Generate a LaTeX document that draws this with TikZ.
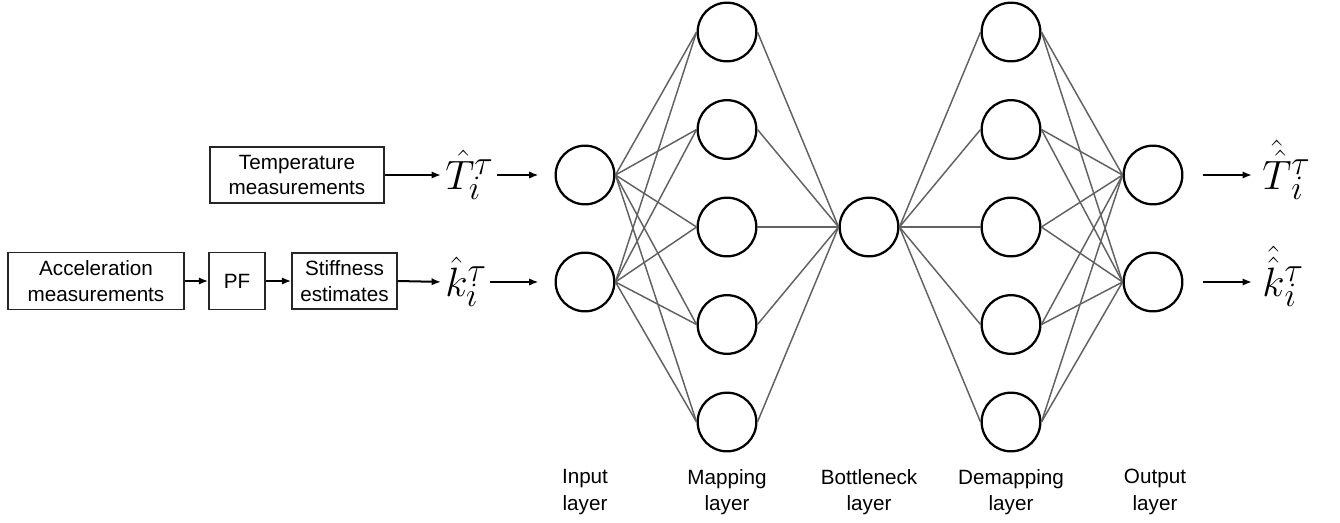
\documentclass[tikz,border=0pt]{standalone}
\usepackage{fontspec}
\newfontfamily\sansfont{Liberation Sans}
\usetikzlibrary{arrows.meta}

\begin{document}
\begin{tikzpicture}[x=0.75pt,y=-0.75pt,
  neuron/.style={circle,draw=black,line width=1.7pt,fill=white,minimum size=44pt,inner sep=0pt},
  blockbox/.style={draw=black!85,line width=1.1pt,inner sep=0pt,align=center,
    font=\sansfont\fontsize{15.5}{19}\selectfont},
  mathlbl/.style={inner sep=0pt,anchor=west,scale=1.236,transform shape,
    font=\fontsize{24.88}{30}\selectfont},
  layerlbl/.style={align=center,inner sep=0pt,font=\sansfont\fontsize{15.5}{20}\selectfont},
  link/.style={draw=black!62,line width=1.1pt},
  flow/.style={draw=black,line width=1.5pt,-{Latex[length=7pt,width=5.5pt]}}]

\useasboundingbox (0,0) rectangle (1340,522);

% signal-processing blocks
\node[blockbox,minimum width=130.5pt,minimum height=42pt] (tbox) at (297,175) {Temperature\\measurements};
\node[blockbox,minimum width=132pt,minimum height=42.75pt] (abox) at (96,281) {Acceleration\\measurements};
\node[blockbox,minimum width=42pt,minimum height=42.75pt] (pf) at (237,281) {PF};
\node[blockbox,minimum width=78.75pt,minimum height=42pt] (sbox) at (344.5,281) {Stiffness\\estimates};

% network inputs and outputs
\node[mathlbl] (tin) at (445,175) {$\hat{T}_i^{\tau}$};
\node[mathlbl] (kin) at (445,282) {$\hat{k}_i^{\tau}$};
\node[mathlbl] (tout) at (1262,175) {$\smash{\hat{\hat{T}}}\vphantom{\hat{T}}_i^{\tau}$};
\node[mathlbl] (kout) at (1262,282) {$\smash{\hat{\hat{k}}}\vphantom{\hat{k}}_i^{\tau}$};

% neurons
\node[neuron] (in1) at (585,175) {};
\node[neuron] (in2) at (585,282) {};
\foreach \j/\yy in {1/32,2/129.5,3/227,4/324.5,5/422}{
  \node[neuron] (m\j) at (727,\yy) {};
  \node[neuron] (d\j) at (1011,\yy) {};
}
\node[neuron] (bn) at (869,227) {};
\node[neuron] (out1) at (1153,175) {};
\node[neuron] (out2) at (1153,282) {};

% weighted connections
\foreach \i in {1,2}{
  \foreach \j in {1,...,5}{
    \draw[link] (in\i.east) -- (m\j.west);
    \draw[link] (d\j.east) -- (out\i.west);
  }
}
\foreach \j in {1,...,5}{
  \draw[link] (m\j.east) -- (bn.west);
  \draw[link] (bn.east) -- (d\j.west);
}

% signal flow arrows
\draw[flow] (abox.east) -- (pf.west);
\draw[flow] (pf.east) -- (sbox.west);
\draw[flow,shorten >=3pt] (tbox.east) -- (tin.west);
\draw[flow,shorten >=3pt] (sbox.east) -- (kin.west);
\draw[flow,shorten <=2pt,shorten >=12pt] (tin.east) -- (in1.west);
\draw[flow,shorten <=2pt,shorten >=12pt] (kin.east) -- (in2.west);
\draw[flow,shorten <=15pt,shorten >=7.5pt] (out1.east) -- (tout.west);
\draw[flow,shorten <=15pt,shorten >=7.5pt] (out2.east) -- (kout.west);

% layer captions
\node[layerlbl] (l1) at (585,492) {Input\\layer};
\node[layerlbl] (l2) at (727,492) {Mapping\\layer};
\node[layerlbl] (l3) at (869,492) {Bottleneck\\layer};
\node[layerlbl] (l4) at (1011,492) {Demapping\\layer};
\node[layerlbl] (l5) at (1155,492) {Output\\layer};
\end{tikzpicture}
\end{document}
